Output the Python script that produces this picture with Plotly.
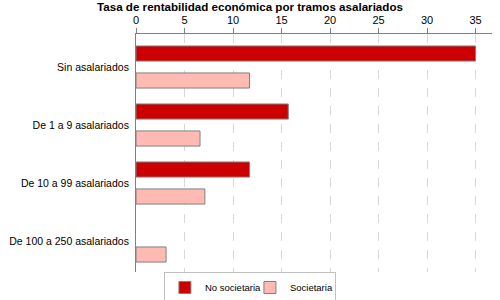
import plotly.graph_objects as go

# Datos
categorias = ["Sin asalariados", "De 1 a 9 asalariados", "De 10 a 99 asalariados", "De 100 a 250 asalariados"]
no_societaria = [35.0, 15.7, 11.7, None]
societaria = [11.7, 6.6, 7.1, 3.1]
ticks_x = [0, 5, 10, 15, 20, 25, 30, 35]

fig = go.Figure()

fig.add_trace(go.Bar(
    y=categorias, x=no_societaria, orientation="h", name="No societaria",
    marker=dict(color="#CC0000", line=dict(color="#808080", width=1)),
))
fig.add_trace(go.Bar(
    y=categorias, x=societaria, orientation="h", name="Societaria",
    marker=dict(color="#FFBBB3", line=dict(color="#808080", width=1)),
))

fig.update_layout(
    width=500, height=300,
    # autoexpand off: la leyenda no debe empujar el margen inferior
    margin=dict(l=136, r=8, t=34, b=28, autoexpand=False),
    paper_bgcolor="white", plot_bgcolor="white",
    font=dict(family="Liberation Sans, Arial, sans-serif", size=10, color="black"),
    title=dict(text="<b>Tasa de rentabilidad económica por tramos asalariados</b>",
               x=0.5, xanchor="center", y=0.99, yanchor="top",
               font=dict(size=11.6, color="black")),
    barmode="group", bargap=0.07, bargroupgap=0.44,
    showlegend=True,
    legend=dict(orientation="h", x=0.32, xanchor="center", y=0.0, yanchor="top",
                bordercolor="#C0C0C0", borderwidth=1, font=dict(size=9.5),
                itemwidth=30, entrywidth=40, tracegroupgap=0),
)

fig.update_xaxes(
    side="top", range=[0, 36.7], tickvals=ticks_x,
    showgrid=True, gridcolor="#D8D8D8", griddash="dash", gridwidth=1,
    showline=True, linecolor="#808080", linewidth=1,
    ticks="outside", ticklen=5, tickcolor="#808080",
    zeroline=False, tickfont=dict(size=11), automargin=False,
)
fig.update_yaxes(
    range=[3.534, -0.569], showgrid=False,
    showline=True, linecolor="#808080", linewidth=1,
    ticks="", tickfont=dict(size=10.5), zeroline=False, ticklabelstandoff=4,
    automargin=False,
)

# quitar el margen por defecto del <body> para que la figura ocupe toda la ventana
fig.write_html("out.html", config={"displayModeBar": False},
               post_script="document.body.style.margin='0';")
